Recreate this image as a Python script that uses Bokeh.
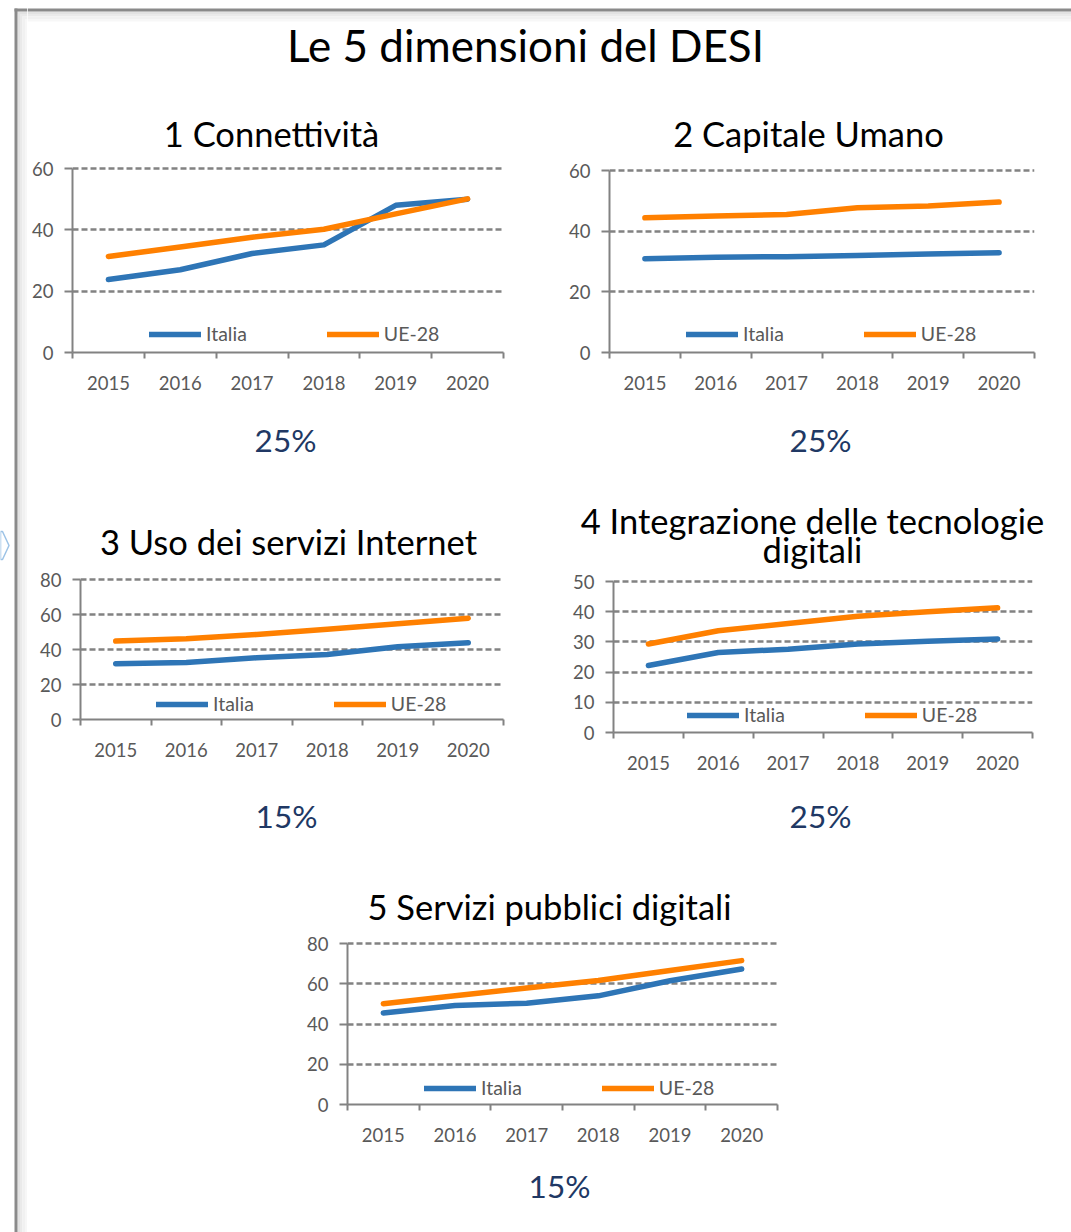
from bokeh.plotting import figure
from bokeh.models import Range1d, FixedTicker, Legend, LegendItem
from bokeh.layouts import row, column
from bokeh.core.properties import value
from bokeh.embed import file_html
from bokeh.resources import INLINE

# ---------------- data ----------------
years = [2015, 2016, 2017, 2018, 2019, 2020]
series_names = ["Italia", "UE-28"]

conn_italia = [23.8, 27.0, 32.3, 35.1, 48.0, 50.0]
conn_ue = [31.3, 34.4, 37.6, 40.2, 45.2, 50.1]

cap_italia = [30.9, 31.4, 31.6, 32.0, 32.5, 32.9]
cap_ue = [44.4, 45.0, 45.5, 47.7, 48.3, 49.6]

uso_italia = [31.9, 32.6, 35.3, 37.2, 41.6, 43.9]
uso_ue = [44.8, 46.1, 48.6, 51.6, 54.7, 57.9]

int_italia = [22.2, 26.5, 27.6, 29.3, 30.2, 31.0]
int_ue = [29.3, 33.7, 36.1, 38.5, 40.0, 41.3]

serv_italia = [45.5, 49.2, 50.3, 54.0, 61.5, 67.3]
serv_ue = [50.1, 54.0, 57.9, 61.6, 66.6, 71.5]

main_title = "Le 5 dimensioni del DESI"
chart_titles = [
    ["1 Connettività"],
    ["2 Capitale Umano"],
    ["3 Uso dei servizi Internet"],
    ["4 Integrazione delle tecnologie", "digitali"],
    ["5 Servizi pubblici digitali"],
]
weights = ["25%", "25%", "15%", "25%", "15%"]
y_max = [60, 60, 80, 50, 80]
y_step = [20, 20, 20, 10, 20]

# ---------------- style ----------------
FONT = "Lato"
AX = "#828282"
TXT = "#595959"
BLUE = "#2E75B6"
ORANGE = "#FF8000"
NAVY = "#203864"
FRAME = "#8a8a8a"
SHADOWS = ["#e2e2e2", "#eaeaea", "#f1f1f1", "#f7f7f7"]

TICK_FS = 18.5
LEG_FS = 19.5
TITLE_FS = 34.5
PCT_FS = 31.5
MAIN_FS = 44
SHIFT = 0.4      # measured offset of the rendered baseline, in em
LINE_W = 5.5

W_MAIN = 1044   # width of the content column (page x 27..1071)


def blank(w, h):
    """A plain drawing surface whose data units are pixels (y downward)."""
    p = figure(width=w, height=h, output_backend="svg", toolbar_location=None,
               x_range=Range1d(0, w), y_range=Range1d(h, 0),
               x_axis_location=None, y_axis_location=None, min_border=0,
               outline_line_color=None, background_fill_color="white",
               border_fill_color="white", frame_align=False)
    p.grid.visible = False
    return p


def put_text(p, items, size, color):
    p.text(x=[i[0] for i in items], y=[i[1] - SHIFT * size for i in items],
           text=[i[2] for i in items],
           text_font=value(FONT), text_font_size=value(f"{size}px"), text_color=color,
           text_align="center", text_baseline="alphabetic")


def text_strip(w, h, items, size, color):
    p = blank(w, h)
    put_text(p, items, size, color)
    return p


def chart(w, h, fl, fr, bt, bb, ymax, ystep, it, ue, leg_x, leg_y, leg_sp):
    pad = 2
    p = figure(width=w, height=h, output_backend="svg", toolbar_location=None,
               x_range=Range1d(years[0] - 0.5, years[-1] + 0.5),
               y_range=Range1d(0, ymax), frame_align=False,
               min_border_left=fl, min_border_right=fr,
               min_border_top=bt, min_border_bottom=bb,
               background_fill_color="white", border_fill_color="white",
               outline_line_color=None)
    frame_h = h - bt - bb
    p.y_range.end = ymax * frame_h / (frame_h - pad)

    p.xgrid.visible = False
    g = p.ygrid[0]
    g.grid_line_color = AX
    g.grid_line_width = 2.3
    g.grid_line_dash = "6 3"

    xa = p.xaxis[0]
    xa.ticker = FixedTicker(ticks=years,
                            minor_ticks=[yy - 0.5 for yy in years] + [years[-1] + 0.5])
    xa.major_tick_line_color = None
    xa.major_tick_out = 0
    xa.major_tick_in = 0
    xa.minor_tick_line_color = AX
    xa.minor_tick_line_width = 2
    xa.minor_tick_out = 6
    xa.minor_tick_in = 0
    xa.axis_line_color = AX
    xa.axis_line_width = 2
    xa.major_label_text_font = FONT
    xa.major_label_text_font_size = f"{TICK_FS}px"
    xa.major_label_text_color = TXT
    xa.major_label_standoff = 17

    ya = p.yaxis[0]
    ya.ticker = FixedTicker(ticks=list(range(0, ymax + 1, ystep)))
    ya.bounds = (0, ymax)
    ya.major_tick_out = 8
    ya.major_tick_in = 0
    ya.major_tick_line_color = AX
    ya.major_tick_line_width = 2
    ya.minor_tick_line_color = None
    ya.axis_line_color = AX
    ya.axis_line_width = 2
    ya.major_label_text_font = FONT
    ya.major_label_text_font_size = f"{TICK_FS}px"
    ya.major_label_text_color = TXT
    ya.major_label_standoff = 11

    r1 = p.line(years, it, line_color=BLUE, line_width=LINE_W, line_cap="round",
                line_join="round")
    r2 = p.line(years, ue, line_color=ORANGE, line_width=LINE_W, line_cap="round",
                line_join="round")

    leg = Legend(items=[LegendItem(label=series_names[0], renderers=[r1]),
                        LegendItem(label=series_names[1], renderers=[r2])],
                 location=(leg_x, leg_y), orientation="horizontal",
                 padding=0, margin=0, spacing=leg_sp,
                 glyph_width=52, glyph_height=20, label_height=20, label_standoff=5,
                 label_text_font=FONT, label_text_font_size=f"{LEG_FS}px",
                 label_text_color=TXT,
                 border_line_color=None, background_fill_alpha=0)
    p.add_layout(leg)
    return p


# ---------------- frame pieces ----------------
strip = blank(27, 1232)
for k, c in enumerate(SHADOWS):
    strip.quad(left=17 + 2.5 * k, right=19.5 + 2.5 * k, top=11 + 2.5 * k, bottom=1232,
               fill_color=c, line_color=None)
    strip.quad(left=17 + 2.5 * k, right=27, top=11 + 2.5 * k, bottom=13.5 + 2.5 * k,
               fill_color=c, line_color=None)
strip.quad(left=14, right=17, top=8, bottom=1232, fill_color=FRAME, line_color=None)
strip.quad(left=14, right=27, top=8, bottom=11, fill_color=FRAME, line_color=None)
strip.patch(x=[0, 2, 8.5, 2, 0], y=[531, 531, 545, 559, 559],
            fill_color="white", line_color="#9dc3e6", line_width=1.5)

header = blank(W_MAIN, 100)
for k, c in enumerate(SHADOWS):
    header.quad(left=0, right=W_MAIN, top=11 + 2.5 * k, bottom=13.5 + 2.5 * k,
                fill_color=c, line_color=None)
header.quad(left=0, right=W_MAIN, top=8, bottom=11, fill_color=FRAME, line_color=None)
put_text(header, [(498, 62, main_title)], MAIN_FS, "black")

# row 1 -------------------------------------------------------------
t1 = text_strip(W_MAIN, 58, [(244, 47, chart_titles[0][0]),
                             (781, 47, chart_titles[1][0])], TITLE_FS, "black")
c1 = chart(513, 247, 45, 37, 8, 53, y_max[0], y_step[0], conn_italia, conn_ue, 77, 7, 80)
c2 = chart(531, 247, 69, 37, 10, 53, y_max[1], y_step[1], cap_italia, cap_ue, 77, 7, 80)
p1 = text_strip(W_MAIN, 65, [(258, 47, weights[0]), (793, 47, weights[1])], PCT_FS, NAVY)

# row 2 -------------------------------------------------------------
t3 = text_strip(513, 95, [(261, 85, chart_titles[2][0])], TITLE_FS, "black")
c3 = chart(513, 230, 53, 37, 12, 76, y_max[2], y_step[2], uso_italia, uso_ue, 76, 4, 80)
p3 = text_strip(513, 65, [(259, 33, weights[2])], PCT_FS, NAVY)

t4 = text_strip(531, 101, [(272, 64, chart_titles[3][0]),
                           (272, 93, chart_titles[3][1])], TITLE_FS, "black")
c4 = chart(531, 224, 73, 39, 8, 63, y_max[3], y_step[3], int_italia, int_ue, 74, 6, 80)
p4 = text_strip(531, 65, [(280, 33, weights[3])], PCT_FS, NAVY)

# row 3 -------------------------------------------------------------
t5 = text_strip(W_MAIN, 71, [(522, 60, chart_titles[4][0])], TITLE_FS, "black")
c5 = chart(W_MAIN, 229, 320, 294, 10, 56, y_max[4], y_step[4], serv_italia, serv_ue, 77, 5, 80)
p5 = text_strip(W_MAIN, 72, [(532, 38, weights[4])], PCT_FS, NAVY)

layout = row(strip, column(header, t1, row(c1, c2), p1,
                           row(column(t3, c3, p3), column(t4, c4, p4)),
                           t5, c5, p5))

open("out.html", "w").write(file_html(layout, INLINE, title="Le 5 dimensioni del DESI"))
